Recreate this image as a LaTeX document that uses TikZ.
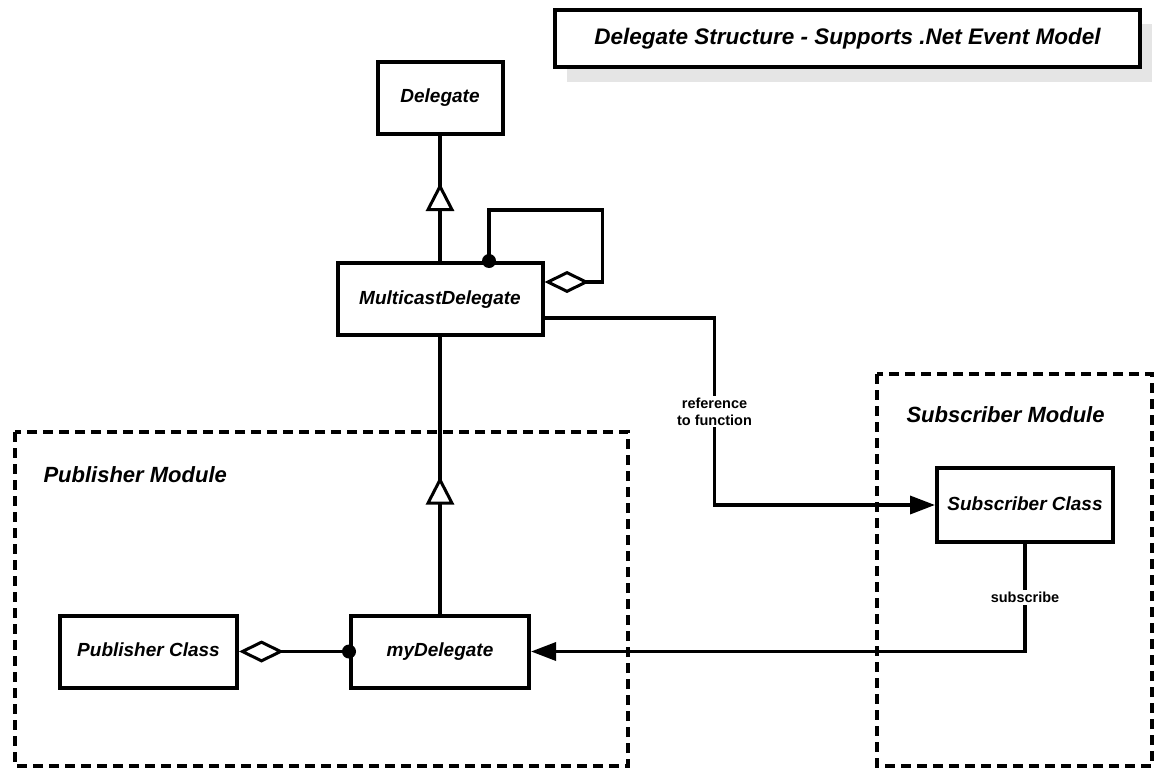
\documentclass[tikz,border=0pt]{standalone}
\usepackage{fontspec}
\setmainfont{Liberation Sans}
\usetikzlibrary{
    positioning,
    arrows.meta,
    calc
}

\begin{document}
\begin{tikzpicture}[x=1pt, y=-1pt,
    cls/.style={draw, line width=4pt, minimum height=72pt, inner sep=0pt,
        text height=14pt, text depth=4pt,
        font=\fontsize{19}{21}\selectfont\bfseries\itshape},
    link/.style={line width=3.5pt},
    module/.style={line width=3.5pt, dash pattern=on 10pt off 6pt},
    modlabel/.style={anchor=west, font=\fontsize{22}{24}\selectfont\bfseries\itshape},
    tag/.style={fill=white, align=center, inner sep=2pt,
        font=\fontsize{14.5}{17}\selectfont\bfseries},
    gen/.style={-{Triangle[length=28pt, width=28pt, fill=white, line width=3pt]}},
    agg/.style={-{Diamond[length=45pt, width=22pt, fill=white, line width=3pt]}},
    call/.style={-{Triangle[length=25pt, width=18pt]}}
  ]
    \clip (0,0) rectangle (1155,768);
    \useasboundingbox (0,0) rectangle (1155,768);

    % Title
    \fill[black!10] (567,24) rectangle (1152,82);
    \node[draw, fill=white, line width=4pt, minimum width=585pt, minimum height=57pt,
        font=\fontsize{22.5}{24}\selectfont\bfseries\itshape] (title) at (847.5,38.5)
        {Delegate Structure - Supports .Net Event Model};

    % Modules
    \draw[module] (15,432) rectangle (628,766);
    \node[modlabel] (pubmod) at (40,475) {Publisher Module};
    \draw[module] (877,374) rectangle (1152,766);
    \node[modlabel] (submod) at (903,415) {Subscriber Module};

    % Classes
    \node[cls, minimum width=125pt] (delegate) at (440,97.5) {Delegate};
    \node[cls, minimum width=205pt] (multi) at (440,299) {MulticastDelegate};
    \node[cls, minimum width=178pt] (mydel) at (440,651.5) {myDelegate};
    \node[cls, minimum width=177pt] (pub) at (148.5,651.5) {Publisher Class};
    \node[cls, minimum width=176pt, minimum height=74pt] (sub) at (1025,505) {Subscriber Class};

    % Generalisation
    \draw[link] (multi.north) -- (delegate.south);
    \draw[link, gen] (multi.north) -- ++(0,-78);
    \draw[link] (mydel.north) -- (multi.south);
    \draw[link, gen] (mydel.north) -- ++(0,-137);

    % Self aggregation of MulticastDelegate
    \draw[link, agg] ([xshift=49pt]multi.north) -- ++(0,-51)
        -| ([xshift=58pt, yshift=17pt]multi.east) -- ([yshift=17pt]multi.east);
    \fill ([xshift=49pt]multi.north) circle (7pt);

    % Publisher holds myDelegate
    \draw[link, agg] (mydel.west) -- (pub.east);
    \fill (mydel.west) circle (7pt);

    % Calls
    \draw[link, call] ([yshift=-19pt]multi.east) -- ++(170,0) coordinate (bend)
        |- node[tag, pos=0.25] {reference\\to function} (sub.west);
    \draw[link, call] (sub.south) |- node[tag, pos=0.25] {subscribe} (mydel.east);
\end{tikzpicture}
\end{document}
